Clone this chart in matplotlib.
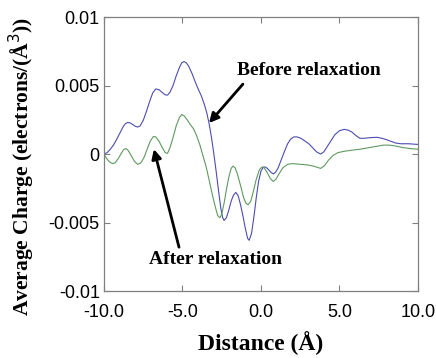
import numpy as np
import matplotlib; matplotlib.use("Agg"); import matplotlib.pyplot as plt

# ---------- data (charge in units of 1e-3) ----------
x_before = [-10.0, -9.8, -9.6, -9.4, -9.2, -9.0, -8.8, -8.65, -8.5, -8.35, -8.2, -8.0, -7.85, -7.7,
            -7.5, -7.3, -7.1, -6.9, -6.7, -6.5, -6.3, -6.1, -5.95, -5.8, -5.6, -5.4, -5.2, -5.05,
            -4.9, -4.75, -4.6, -4.4, -4.2, -4.0, -3.8, -3.6, -3.45, -3.3, -3.15, -3.0, -2.85, -2.7,
            -2.55, -2.45, -2.35, -2.2, -2.05, -1.9, -1.75, -1.6, -1.45, -1.3, -1.15, -1.0, -0.85,
            -0.75, -0.6, -0.45, -0.3, -0.15, 0.0, 0.15, 0.3, 0.45, 0.65, 0.8, 0.95, 1.1, 1.3, 1.5,
            1.7, 1.9, 2.1, 2.3, 2.55, 2.8, 3.05, 3.3, 3.55, 3.8, 4.0, 4.2, 4.45, 4.7, 5.0, 5.3,
            5.55, 5.8, 6.05, 6.3, 6.6, 7.0, 7.4, 7.7, 8.0, 8.3, 8.6, 8.9, 9.4, 10.0]
y_before = [0.0, 0.1, 0.35, 0.65, 1.05, 1.5, 1.95, 2.2, 2.3, 2.28, 2.18, 2.02, 1.97, 2.05,
            2.45, 3.1, 3.8, 4.45, 4.75, 4.7, 4.5, 4.32, 4.3, 4.5, 5.0, 5.7, 6.3, 6.65,
            6.75, 6.65, 6.4, 5.9, 5.3, 4.75, 4.25, 3.6, 3.0, 2.2, 1.2, 0.0, -1.3, -2.7,
            -4.0, -4.6, -4.85, -4.65, -4.1, -3.45, -3.0, -2.8, -3.05, -3.7, -4.5, -5.4, -6.15,
            -6.3, -5.8, -4.6, -3.2, -2.0, -1.25, -0.95, -0.95, -1.1, -1.35, -1.45, -1.3, -1.0, -0.4, 0.2,
            0.75, 1.1, 1.25, 1.25, 1.15, 0.95, 0.75, 0.45, 0.15, 0.0, 0.15, 0.5, 0.95, 1.4, 1.7, 1.8,
            1.75, 1.6, 1.35, 1.15, 1.15, 1.2, 1.22, 1.15, 1.05, 0.92, 0.8, 0.75, 0.75, 0.7]

x_after = [-10.0, -9.85, -9.65, -9.45, -9.3, -9.1, -8.9, -8.75, -8.6, -8.45, -8.25, -8.05, -7.85,
           -7.65, -7.45, -7.25, -7.05, -6.85, -6.7, -6.5, -6.3, -6.1, -5.95, -5.8, -5.6, -5.4,
           -5.2, -5.05, -4.9, -4.7, -4.5, -4.3, -4.1, -3.9, -3.7, -3.5, -3.3, -3.1, -2.9, -2.75,
           -2.62, -2.5, -2.35, -2.2, -2.05, -1.9, -1.78, -1.65, -1.5, -1.3, -1.1, -0.95, -0.82,
           -0.65, -0.5, -0.3, -0.1, 0.05, 0.2, 0.4, 0.6, 0.78, 0.95, 1.15, 1.4, 1.7, 2.0, 2.5,
           3.0, 3.4, 3.8, 4.05, 4.3, 4.6, 4.9, 5.3, 5.8, 6.3, 6.8, 7.3, 7.8, 8.2, 8.6, 9.0, 9.5, 10.0]
y_after = [0.0, -0.3, -0.58, -0.7, -0.65, -0.35, 0.05, 0.32, 0.4, 0.25, -0.15, -0.55, -0.75,
           -0.65, -0.25, 0.35, 0.95, 1.28, 1.25, 0.95, 0.5, 0.1, 0.05, 0.45, 1.2, 2.05,
           2.65, 2.88, 2.8, 2.5, 2.15, 1.85, 1.35, 0.7, -0.1, -0.9, -1.9, -2.95, -3.9, -4.5,
           -4.65, -4.4, -3.6, -2.6, -1.7, -1.05, -0.88, -1.0, -1.45, -2.3, -3.2, -3.6, -3.7,
           -3.45, -2.8, -1.85, -1.15, -0.95, -1.0, -1.35, -1.8, -2.0, -1.85, -1.45, -1.0, -0.75, -0.7, -0.75,
           -0.8, -0.9, -1.05, -0.85, -0.45, -0.1, 0.1, 0.2, 0.28, 0.35, 0.45, 0.55, 0.65, 0.65, 0.58, 0.48, 0.4, 0.35]

xticks = [-10, -5, 0, 5, 10]
xticklabels = ["-10.0", "-5.0", "0.0", "5.0", "10.0"]
yticks = [0.01, 0.005, 0, -0.005, -0.01]
yticklabels = ["0.01", "0.005", "0", "-0.005", "-0.01"]

fig = plt.figure(figsize=(4.36, 3.58), dpi=100)
ax = fig.add_axes([0.2385, 0.187, 0.72, 0.7655])
ax.plot(x_before, np.array(y_before) * 1e-3, color="#4c4cb4", lw=0.8)
ax.plot(x_after, np.array(y_after) * 1e-3, color="#5f9a5f", lw=0.8)
ax.set_xlim(-10, 10); ax.set_ylim(-0.01, 0.01)
ax.set_xticks(xticks); ax.set_xticklabels(xticklabels)
ax.set_yticks(yticks); ax.set_yticklabels(yticklabels)
for s in ax.spines.values(): s.set_color("#808080"); s.set_linewidth(0.9)
ax.tick_params(direction="in", top=True, right=True, length=4, color="#808080",
               labelsize=13, pad=3)
ax.tick_params(axis="x", pad=9)
for t in ax.get_xticklabels() + ax.get_yticklabels(): t.set_family("Liberation Sans")

serif = dict(family="Liberation Serif", weight="bold")
ax.set_xlabel("Distance (Å)", fontsize=17, **serif)
ax.xaxis.set_label_coords(0.5, -0.145)
ax.set_ylabel("Average Charge (electrons/(Å$^3$))", fontsize=15.5, **serif)
ax.yaxis.set_label_coords(-0.213, 0.455)

ap = dict(arrowstyle="-|>", color="k", lw=2, mutation_scale=14, shrinkA=0, shrinkB=0)
ax.annotate("", xy=(-3.31, 0.00226), xytext=(-1.15, 0.0051), arrowprops=ap)
ax.text(-1.5, 0.0061, "Before relaxation", fontsize=14, va="center", ha="left", **serif)
ax.annotate("", xy=(-6.82, 0.00036), xytext=(-5.22, -0.0068), arrowprops=ap)
ax.text(-7.15, -0.0077, "After relaxation", fontsize=14, va="center", ha="left", **serif)

fig.savefig("out.png", dpi=100)
